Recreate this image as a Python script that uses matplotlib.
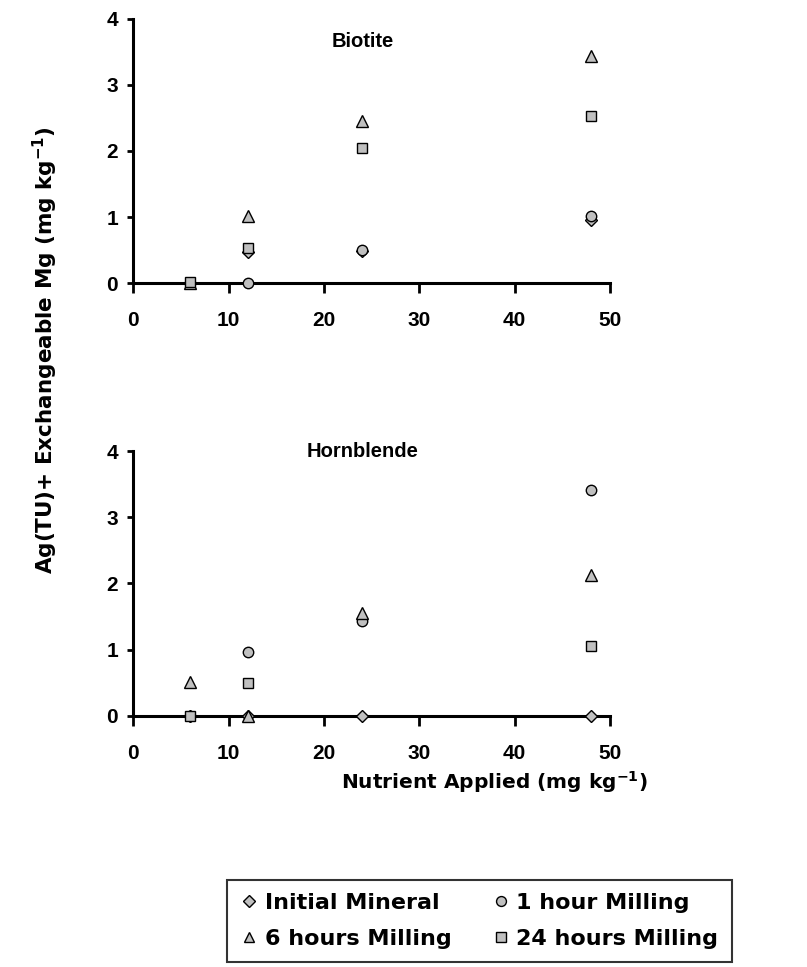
import matplotlib
matplotlib.use("Agg")
import matplotlib.pyplot as plt
import numpy as np

plt.rcParams["font.family"] = ["Liberation Sans", "DejaVu Sans"]
plt.rcParams["font.weight"] = "bold"
plt.rcParams["mathtext.default"] = "bf"

# data
nutrient = [6, 12, 24, 48]
series = ["Initial Mineral", "1 hour Milling", "6 hours Milling", "24 hours Milling"]
markers = ["D", "o", "^", "s"]
sizes = [6.5, 7.5, 8, 7.5]

biotite_initial = [0.0, 0.47, 0.48, 0.96]
biotite_1h = [0.0, 0.0, 0.5, 1.01]
biotite_6h = [0.0, 1.02, 2.45, 3.44]
biotite_24h = [0.02, 0.53, 2.04, 2.53]

hornblende_initial = [0.0, 0.0, 0.0, 0.0]
hornblende_1h = [0.0, 0.96, 1.44, 3.41]
hornblende_6h = [0.51, 0.0, 1.56, 2.13]
hornblende_24h = [0.0, 0.50, np.nan, 1.05]

panels = [("Biotite", [biotite_initial, biotite_1h, biotite_6h, biotite_24h]),
          ("Hornblende", [hornblende_initial, hornblende_1h, hornblende_6h, hornblende_24h])]

fig = plt.figure(figsize=(8.07, 9.67), dpi=100)
positions = [[0.165, 0.7073, 0.591, 0.2731], [0.165, 0.2596, 0.591, 0.274]]
title_y = [0.913, 1.0]

handles = []
for pos, ty, (title, data) in zip(positions, title_y, panels):
    ax = fig.add_axes(pos)
    for vals, name, mk, ms in zip(data, series, markers, sizes):
        h, = ax.plot(nutrient, vals, linestyle="none", marker=mk, markersize=ms,
                     markerfacecolor="#c0c0c0", markeredgecolor="black",
                     markeredgewidth=1.0, clip_on=False, zorder=3, label=name)
        if title == "Biotite":
            handles.append(h)
    ax.set_xlim(0, 50)
    ax.set_ylim(0, 4)
    ax.set_xticks([0, 10, 20, 30, 40, 50])
    ax.set_yticks([0, 1, 2, 3, 4])
    for s in ["top", "right"]:
        ax.spines[s].set_visible(False)
    for s in ["left", "bottom"]:
        ax.spines[s].set_linewidth(2.2)
    ax.tick_params(axis="x", direction="out", length=7, width=2, pad=13, labelsize=15)
    ax.tick_params(axis="y", direction="out", length=4, width=2, pad=7, labelsize=15)
    ax.text(0.482, ty, title, transform=ax.transAxes,
            ha="center", va="center", fontsize=14.5, fontweight="bold")

fig.text(0.056, 0.638, "Ag(TU)+ Exchangeable Mg (mg kg$^{-1}$)", family="DejaVu Sans",
         rotation=90, ha="center", va="center", fontsize=15.5, fontweight="bold")
fig.text(0.612, 0.191, "Nutrient Applied (mg kg$^{-1}$)", family="DejaVu Sans",
         ha="center", va="center", fontsize=14.5, fontweight="bold")

# column-major fill -> rows: Initial | 1 hour ; 6 hours | 24 hours
order = [0, 2, 1, 3]
leg = fig.legend(handles=[handles[i] for i in order], loc="center",
                 bbox_to_anchor=(0.594, 0.0476), ncol=2, frameon=True, fancybox=False,
                 handletextpad=0.3, columnspacing=1.8, handlelength=0.8,
                 borderpad=0.6, labelspacing=0.7, markerscale=0.95,
                 prop={"family": "DejaVu Sans", "weight": "bold", "size": 16})
leg.get_frame().set_edgecolor("black")
leg.get_frame().set_linewidth(1.5)

plt.savefig("out.png", dpi=100)
